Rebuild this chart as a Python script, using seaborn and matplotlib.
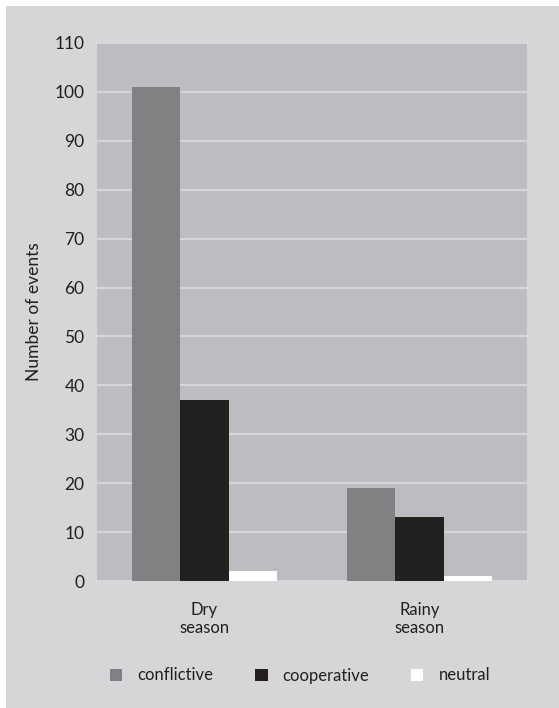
import numpy as np
import pandas as pd
import seaborn as sns
import matplotlib.pyplot as plt
from matplotlib.patches import Rectangle, Patch

seasons = ["Dry\nseason", "Rainy\nseason"]
event_types = ["conflictive", "cooperative", "neutral"]
conflictive = [101, 19]
cooperative = [37, 13]
neutral = [2, 1]

palette = {"conflictive": "#808184", "cooperative": "#231f20", "neutral": "#ffffff"}

df = pd.DataFrame({
    "season": seasons * 3,
    "type": np.repeat(event_types, len(seasons)),
    "count": conflictive + cooperative + neutral,
})

sns.set_theme(style="white")
plt.rcParams['font.family'] = ['Lato', 'DejaVu Sans']

fig = plt.figure(figsize=(5.59, 7.08), dpi=100)
fig.patch.set_facecolor("white")
# grey panel behind everything
fig.patches.append(Rectangle((6 / 559, 0), 1, 1 - 6 / 708, transform=fig.transFigure,
                             facecolor="#d5d6d7", edgecolor="none", zorder=-10))

ax = fig.add_axes([97 / 559, 1 - 581 / 708, 430 / 559, 538 / 708])
ax.set_facecolor("#bcbdc0")

sns.barplot(data=df, x="season", y="count", hue="type", hue_order=event_types,
            palette=palette, width=0.67, linewidth=0, ax=ax, legend=False, zorder=3)

ax.set_ylim(0, 110)
ax.set_xlim(-0.5, 1.5)
ax.set_yticks(range(0, 111, 10))
ax.grid(axis="y", color="#d5d6d7", linewidth=1.6, zorder=0)
ax.set_axisbelow(True)
for s in ax.spines.values():
    s.set_visible(False)

ax.tick_params(axis="y", length=0, pad=9, labelsize=12.5, labelcolor="#231f20")
ax.tick_params(axis="x", length=0, pad=15, labelsize=12, labelcolor="#231f20")
ax.set_xlabel("")
ax.set_ylabel("Number of events", fontsize=12.5, color="#231f20")
ax.yaxis.set_label_coords(-0.128, 0.5)

handles = [Patch(facecolor=palette[t], edgecolor="none") for t in event_types]
fig.legend(handles, event_types, loc="center", bbox_to_anchor=(300 / 559, 1 - 675.5 / 708),
           ncol=3, frameon=False, fontsize=12, handlelength=0.75, handleheight=0.75,
           handletextpad=0.9, columnspacing=2.5, labelcolor="#231f20")

fig.savefig("out.png", dpi=100, facecolor=fig.get_facecolor())
